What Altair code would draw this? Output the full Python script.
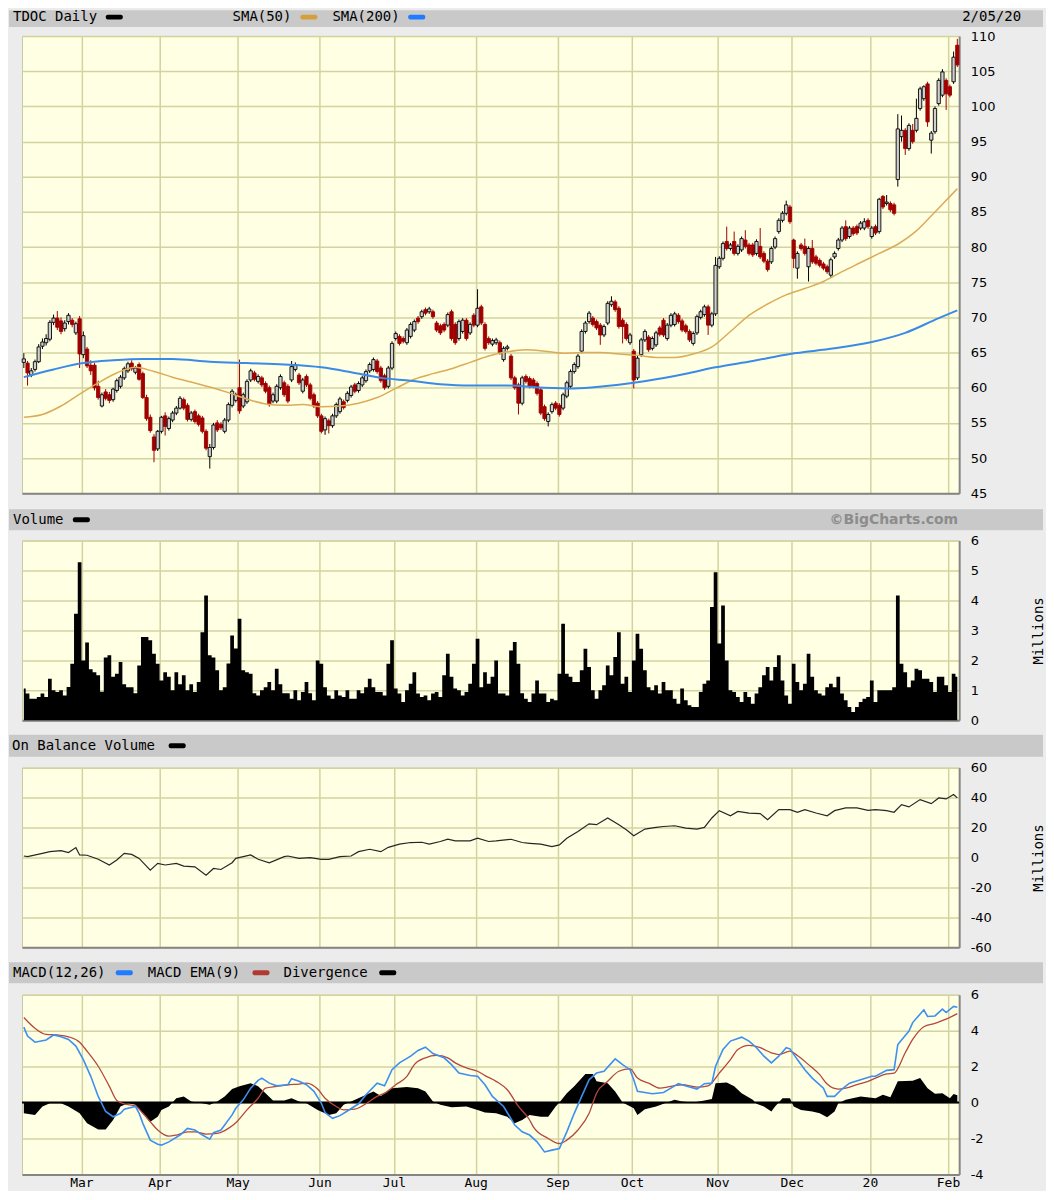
import altair as alt
import pandas as pd

# ---------------- data (trading-day index 0 = 2019-02-06 ... 251 = 2020-02-05) ----------------
opens = [63.6, 63.5, 61.8, 62.6, 63.7, 65.9, 66.4, 66.9, 69.3, 69.9,
         69.5, 68.4, 69.4, 69.6, 67.8, 69.8, 64.7, 65.5, 63.2, 63.2,
         60.2, 57.4, 59.4, 59.0, 58.3, 59.6, 60.2, 61.4, 62.4, 63.5,
         62.2, 63.3, 62.0, 58.6, 55.8, 53.0, 51.3, 53.8, 56.0, 54.2,
         55.4, 56.4, 57.1, 58.3, 57.5, 55.5, 56.6, 56.0, 55.7, 53.8,
         50.2, 51.5, 55.0, 54.8, 53.8, 55.4, 57.5, 58.2, 60.0, 57.4,
         58.0, 61.1, 62.1, 60.9, 61.4, 60.6, 60.0, 58.1, 58.1, 60.0,
         60.7, 60.2, 61.1, 62.6, 61.8, 59.5, 61.6, 60.4, 59.0, 57.8,
         56.0, 54.0, 55.3, 54.6, 56.0, 56.6, 58.0, 58.2, 58.9, 60.4,
         59.6, 60.4, 61.0, 62.4, 62.6, 63.8, 62.8, 61.7, 60.2, 62.8,
         67.0, 67.3, 67.0, 66.4, 67.3, 68.2, 69.9, 70.1, 71.1, 70.8,
         70.8, 69.2, 68.8, 69.0, 68.9, 70.8, 69.0, 67.0, 68.0, 69.6,
         67.8, 70.3, 68.9, 71.5, 69.0, 67.0, 66.2, 66.4, 66.4, 64.0,
         65.6, 64.5, 61.4, 60.4, 57.8, 61.6, 61.3, 61.1, 60.6, 59.7,
         57.3, 55.2, 56.6, 57.8, 57.5, 57.1, 58.8, 60.2, 62.3, 63.0,
         65.2, 68.0, 69.4, 69.9, 69.4, 68.9, 67.5, 69.2, 71.8, 72.2,
         71.3, 69.6, 69.0, 66.4, 65.2, 61.4, 64.7, 66.8, 67.2, 65.6,
         66.1, 68.5, 69.6, 67.0, 68.9, 69.0, 70.3, 69.5, 68.8, 68.0,
         66.3, 67.8, 70.0, 70.4, 71.5, 68.9, 70.5, 77.2, 78.4, 80.8,
         79.8, 80.8, 79.1, 79.6, 81.0, 80.3, 80.3, 79.1, 80.1, 79.1,
         78.0, 77.9, 80.0, 82.2, 83.8, 84.8, 85.7, 81.0, 77.0, 80.3,
         80.1, 77.2, 79.8, 78.6, 78.1, 77.6, 77.2, 76.0, 78.6, 79.8,
         81.0, 82.9, 81.5, 82.7, 82.9, 82.7, 82.7, 83.8, 81.5, 82.9,
         82.2, 87.2, 86.2, 86.2, 86.0, 89.6, 95.7, 96.6, 94.0, 96.6,
         96.6, 99.7, 101.1, 103.2, 95.2, 96.4, 100.4, 101.6, 103.7, 102.8,
         103.5, 108.7]
highs = [64.9, 63.8, 62.8, 64.0, 66.2, 67.0, 67.6, 69.6, 70.4, 70.9,
         70.0, 69.6, 70.6, 69.9, 69.4, 70.2, 68.0, 65.8, 63.9, 63.5,
         61.0, 59.3, 59.8, 59.4, 60.0, 61.3, 61.8, 63.0, 63.7, 63.9,
         63.1, 63.6, 62.3, 59.0, 56.2, 53.4, 54.0, 56.0, 56.5, 55.9,
         56.7, 57.4, 58.8, 58.6, 57.8, 56.7, 56.9, 56.3, 56.0, 54.1,
         52.0, 55.0, 55.4, 55.1, 55.7, 57.9, 59.8, 59.3, 64.0, 59.3,
         61.2, 62.7, 62.4, 61.9, 61.7, 60.9, 60.3, 59.3, 60.5, 61.9,
         61.0, 60.5, 63.8, 63.6, 62.1, 61.4, 61.9, 60.7, 59.3, 58.1,
         56.3, 55.9, 55.6, 56.3, 57.9, 58.7, 58.3, 59.5, 60.4, 60.7,
         60.9, 61.7, 62.6, 63.6, 64.3, 64.1, 63.1, 62.0, 63.1, 66.6,
         68.0, 67.6, 67.3, 68.5, 69.3, 69.7, 70.2, 71.1, 71.4, 71.5,
         71.1, 69.5, 69.1, 69.3, 70.7, 71.1, 69.3, 69.7, 69.9, 69.9,
         69.3, 70.6, 74.0, 71.8, 69.3, 67.3, 67.0, 67.1, 66.7, 65.9,
         66.1, 64.8, 61.7, 60.7, 61.7, 61.9, 61.6, 61.4, 60.9, 60.0,
         57.6, 56.5, 57.9, 58.1, 57.8, 59.3, 61.0, 62.6, 63.6, 64.8,
         68.3, 69.5, 70.9, 70.2, 69.7, 69.2, 69.0, 72.3, 73.0, 72.5,
         71.6, 69.9, 69.3, 67.8, 65.5, 64.5, 67.1, 68.3, 67.5, 67.3,
         68.1, 68.8, 69.9, 69.2, 70.6, 70.8, 70.6, 69.8, 69.1, 68.3,
         68.0, 70.4, 71.1, 71.8, 71.8, 70.8, 78.6, 78.7, 80.8, 82.9,
         80.6, 82.2, 80.4, 81.5, 82.4, 80.6, 80.6, 81.1, 82.7, 79.4,
         78.3, 80.1, 81.5, 84.1, 85.1, 86.6, 86.0, 81.2, 79.4, 80.6,
         81.2, 80.1, 81.0, 78.9, 78.4, 77.9, 77.5, 78.5, 79.4, 81.3,
         83.0, 83.8, 83.0, 83.0, 83.2, 83.7, 84.1, 84.1, 83.0, 83.2,
         87.0, 87.4, 87.4, 86.5, 86.3, 98.9, 98.7, 96.9, 97.6, 97.5,
         101.1, 102.8, 103.0, 103.5, 96.5, 100.0, 104.0, 105.3, 104.0, 103.1,
         107.8, 109.6]
lows = [62.8, 60.3, 61.5, 62.3, 63.5, 65.5, 66.0, 66.6, 68.9, 68.2,
        67.6, 68.0, 69.0, 68.6, 67.5, 62.8, 64.2, 62.8, 61.8, 59.6,
        58.3, 57.2, 58.2, 57.8, 58.0, 59.3, 59.9, 61.1, 62.1, 62.4,
        61.9, 61.0, 58.4, 55.3, 53.6, 49.4, 51.0, 53.5, 53.2, 53.9,
        55.1, 56.1, 56.9, 56.8, 55.2, 55.2, 54.9, 54.5, 53.5, 51.1,
        48.5, 51.2, 53.7, 54.0, 53.5, 55.1, 57.2, 57.9, 56.3, 57.1,
        57.7, 60.8, 60.9, 60.6, 60.1, 59.2, 57.3, 57.8, 57.8, 59.7,
        58.7, 57.8, 60.8, 62.3, 60.4, 59.2, 60.1, 58.2, 57.1, 55.7,
        53.5, 53.3, 53.5, 54.3, 55.7, 56.3, 56.9, 57.9, 58.6, 59.2,
        59.3, 60.1, 60.7, 62.1, 62.3, 62.0, 60.7, 59.7, 59.9, 62.5,
        66.7, 66.0, 66.3, 66.1, 67.0, 67.9, 69.1, 69.8, 70.3, 70.5,
        69.8, 67.9, 67.5, 67.9, 68.6, 66.7, 66.1, 66.7, 67.7, 66.7,
        67.5, 68.6, 68.6, 68.9, 65.3, 66.1, 65.9, 66.1, 64.7, 63.7,
        65.3, 61.1, 59.7, 56.2, 57.5, 60.6, 59.9, 59.9, 58.9, 56.1,
        55.3, 54.5, 56.3, 56.8, 55.9, 56.8, 58.5, 59.9, 62.0, 62.7,
        64.9, 67.7, 69.1, 68.7, 68.2, 66.1, 67.2, 68.9, 71.5, 70.8,
        68.4, 66.3, 66.7, 66.1, 59.9, 61.1, 64.4, 66.5, 65.1, 65.3,
        65.8, 67.3, 67.2, 66.7, 68.6, 68.7, 69.1, 67.9, 67.7, 66.5,
        66.0, 67.5, 69.7, 70.1, 67.5, 68.6, 70.2, 76.9, 78.1, 79.5,
        79.5, 78.8, 78.8, 79.3, 79.8, 78.8, 78.6, 78.8, 78.3, 77.7,
        76.5, 77.6, 79.7, 81.9, 83.5, 84.5, 83.3, 77.0, 75.5, 79.5,
        78.8, 75.1, 77.6, 77.4, 77.1, 76.7, 76.2, 75.6, 78.3, 79.5,
        80.7, 80.9, 81.2, 81.6, 81.7, 82.4, 82.4, 82.6, 81.2, 81.7,
        81.9, 85.4, 85.9, 85.0, 84.5, 88.6, 95.0, 93.1, 93.7, 94.7,
        96.3, 99.4, 100.8, 97.1, 93.3, 96.1, 100.1, 101.3, 99.5, 101.3,
        103.2, 105.6]
closes = [64.1, 62.1, 62.4, 63.7, 65.8, 66.5, 67.0, 69.3, 69.9, 68.6,
          68.0, 69.2, 70.3, 69.0, 69.1, 64.8, 67.4, 63.1, 62.4, 60.0,
          58.6, 59.0, 58.5, 58.2, 59.8, 61.0, 61.5, 62.7, 63.4, 62.7,
          62.8, 61.2, 58.6, 55.6, 53.9, 51.1, 53.8, 55.8, 54.5, 55.6,
          56.4, 57.1, 58.5, 57.1, 55.5, 56.4, 55.2, 54.8, 53.8, 51.4,
          51.5, 54.7, 54.0, 54.3, 55.4, 57.6, 59.5, 59.0, 56.7, 59.0,
          60.9, 62.4, 61.2, 61.6, 60.4, 59.5, 57.6, 59.0, 60.2, 61.6,
          59.0, 58.1, 63.0, 63.3, 60.7, 61.1, 60.4, 58.5, 57.4, 56.0,
          53.8, 55.6, 54.6, 56.0, 57.6, 58.4, 57.2, 59.2, 60.1, 59.5,
          60.6, 61.4, 62.3, 63.3, 64.0, 62.3, 61.0, 60.0, 62.8, 66.3,
          67.7, 66.3, 66.6, 68.2, 69.0, 69.4, 69.4, 70.8, 70.6, 71.2,
          70.1, 68.2, 67.8, 68.2, 70.4, 67.0, 66.4, 69.4, 69.6, 67.0,
          69.0, 68.9, 71.3, 69.2, 65.6, 66.4, 66.7, 66.8, 65.0, 65.6,
          65.8, 61.4, 60.0, 57.8, 61.4, 60.9, 60.2, 60.2, 59.2, 56.4,
          55.6, 56.2, 57.6, 57.1, 56.2, 59.0, 60.7, 62.3, 63.3, 64.5,
          68.0, 69.2, 70.6, 69.0, 68.5, 67.5, 68.7, 72.0, 72.3, 71.1,
          68.7, 68.7, 67.0, 67.5, 61.1, 64.2, 66.8, 68.0, 65.4, 67.0,
          67.8, 67.6, 67.5, 68.9, 70.3, 70.5, 69.4, 68.2, 68.0, 66.8,
          67.7, 70.1, 70.8, 71.5, 68.9, 70.5, 77.4, 78.4, 80.5, 79.8,
          80.3, 79.1, 80.1, 81.2, 80.1, 79.1, 78.9, 80.8, 78.6, 78.0,
          76.8, 79.8, 81.2, 83.8, 84.8, 86.0, 83.6, 78.4, 79.1, 79.8,
          79.1, 79.8, 77.9, 77.7, 77.4, 77.0, 76.5, 78.2, 79.1, 81.0,
          82.7, 81.2, 82.7, 81.9, 82.0, 83.4, 83.6, 82.9, 82.7, 82.0,
          86.8, 85.7, 86.4, 85.3, 84.8, 96.8, 96.6, 94.0, 97.3, 95.0,
          98.3, 102.5, 102.8, 97.8, 96.2, 99.7, 103.7, 104.9, 101.8, 101.6,
          107.0, 105.9]
volumes = [1.06, 0.89, 0.72, 0.72, 0.78, 0.89, 0.78, 1.39, 1.0, 0.94,
           1.0, 0.83, 1.11, 1.89, 3.56, 5.28, 2.0, 2.6, 1.7, 1.6,
           1.5, 0.95, 2.1, 2.17, 1.45, 1.55, 1.95, 1.2, 1.1, 1.1,
           0.9, 1.83, 2.78, 2.78, 2.67, 2.22, 1.89, 1.33, 1.6, 1.45,
           1.0, 1.6, 1.2, 1.5, 1.0, 1.2, 0.94, 1.28, 2.94, 4.17,
           2.17, 2.1, 1.67, 1.0, 1.1, 1.9, 2.83, 2.4, 3.39, 1.67,
           1.6, 1.55, 0.9, 0.83, 1.0, 1.1, 1.28, 1.0, 1.72, 1.2,
           0.9, 0.9, 0.72, 1.0, 0.67, 0.94, 1.28, 0.9, 0.67, 2.0,
           1.89, 1.1, 0.83, 0.72, 1.0, 0.83, 0.78, 1.0, 0.72, 0.72,
           1.0, 0.9, 1.1, 1.39, 1.1, 0.94, 0.94, 0.83, 1.89, 2.67,
           1.06, 0.89, 0.61, 1.0, 1.22, 1.6, 0.89, 0.78, 0.83, 0.67,
           0.89, 0.94, 0.78, 1.5, 2.22, 1.45, 1.06, 1.0, 0.83, 0.94,
           1.22, 1.89, 2.72, 1.1, 1.6, 1.22, 1.45, 2.0, 0.89, 0.89,
           0.83, 2.33, 2.61, 1.89, 0.9, 0.72, 0.61, 0.89, 1.33, 0.89,
           0.89, 0.61, 0.72, 0.67, 1.55, 3.22, 1.55, 1.45, 1.28, 1.28,
           1.67, 2.39, 1.78, 1.0, 0.72, 1.0, 1.17, 1.83, 1.5, 2.11,
           2.94, 1.22, 1.45, 0.94, 2.0, 2.89, 2.39, 1.67, 1.1, 1.0,
           1.17, 0.89, 1.28, 1.0, 1.0, 0.72, 0.55, 1.06, 0.67, 0.5,
           0.44, 0.44, 0.94, 1.22, 1.33, 3.78, 4.94, 2.56, 3.83, 2.0,
           1.0, 0.94, 0.78, 0.61, 0.94, 0.78, 0.55, 0.89, 1.1, 1.5,
           1.78, 1.33, 1.78, 2.17, 1.33, 0.83, 0.55, 1.89, 1.28, 1.0,
           1.22, 2.22, 1.45, 1.0, 0.89, 0.83, 1.1, 1.22, 1.1, 1.45,
           0.89, 0.67, 0.44, 0.28, 0.44, 0.61, 0.72, 0.78, 1.33, 0.61,
           1.0, 1.0, 1.0, 1.0, 1.1, 4.17, 1.89, 1.6, 1.1, 1.33,
           1.72, 1.67, 1.39, 1.39, 1.28, 0.94, 1.45, 1.45, 1.17, 0.94,
           1.55, 1.45]

sma50_day = [0, 5, 10, 15, 20, 25, 30, 35, 40, 45, 50, 55, 60, 65, 70, 75, 80, 85, 90, 95,
             100, 105, 110, 115, 120, 125, 130, 135, 140, 145, 150, 155, 160, 165, 170, 175,
             180, 185, 190, 195, 200, 205, 210, 215, 220, 225, 230, 235, 240, 245, 251]
sma50_val = [55.8, 56.2, 57.4, 59.1, 60.7, 62.1, 62.9, 62.3, 61.5, 60.8, 60.1, 59.3, 58.4, 57.7,
             57.5, 57.6, 57.3, 57.4, 57.8, 58.6, 59.9, 61.2, 62.0, 62.7, 63.6, 64.5, 65.1, 65.4,
             65.2, 64.9, 65.0, 65.0, 64.8, 64.6, 64.3, 64.3, 64.8, 65.8, 68.0, 70.3, 71.9, 73.2,
             74.1, 75.1, 76.5, 77.8, 79.1, 80.4, 82.3, 85.0, 88.3]
sma200_day = [0, 8, 16, 24, 32, 40, 50, 60, 70, 80, 88, 96, 104, 112, 120, 130, 140, 148,
              156, 164, 170, 178, 186, 196, 206, 218, 228, 237, 246, 251]
sma200_val = [61.5, 62.6, 63.5, 63.9, 64.1, 64.1, 63.7, 63.5, 63.3, 62.9, 62.2, 61.4, 61.0,
              60.5, 60.3, 60.3, 60.0, 59.9, 60.2, 60.7, 61.2, 62.0, 62.9, 63.8, 64.8, 65.6,
              66.5, 67.8, 69.9, 71.0]

obv_day = [0, 1, 5, 7, 10, 12, 14, 15, 17, 20, 23, 25, 27, 29, 31, 34, 36, 38, 41, 43, 46,
           49, 51, 53, 56, 57, 61, 63, 66, 70, 71, 74, 77, 80, 82, 85, 88, 90, 93, 96, 98,
           101, 104, 107, 109, 112, 114, 116, 120, 122, 125, 127, 131, 134, 136, 139, 142,
           144, 146, 149, 152, 154, 157, 160, 162, 164, 167, 170, 172, 175, 178, 181, 183,
           185, 187, 190, 192, 195, 198, 200, 203, 206, 208, 210, 213, 216, 218, 221, 224,
           227, 229, 232, 234, 236, 238, 241, 244, 246, 248, 250, 251]
obv_val = [1.0, 0.6, 2.8, 3.9, 4.6, 3.3, 6.6, 1.7, 1.5, -1.2, -5.0, -1.7, 2.8, 2.1, -0.6,
           -8.4, -3.9, -5.0, -3.9, -5.7, -6.2, -11.8, -7.3, -8.0, -3.5, -0.6, 1.7, -1.2,
           -3.5, 0.6, 1.0, -0.6, -0.1, -1.2, -1.2, 0.6, 1.0, 3.9, 5.5, 3.9, 6.8, 8.9, 10.0,
           10.2, 8.9, 10.7, 12.2, 11.1, 11.1, 12.9, 10.7, 11.1, 12.2, 10.0, 9.5, 8.9, 7.3,
           8.4, 12.9, 17.4, 22.5, 21.9, 26.4, 21.9, 18.5, 14.5, 19.0, 20.1, 20.7, 21.2, 19.6,
           19.0, 20.1, 26.4, 31.3, 27.9, 30.8, 29.7, 29.3, 25.2, 32.0, 32.0, 30.2, 32.0, 29.7,
           27.9, 31.3, 33.1, 33.1, 31.5, 32.0, 31.3, 30.2, 35.3, 33.8, 38.7, 36.0, 39.8, 39.1,
           42.1, 39.8]

macd_day = [0, 1, 3, 6, 8, 10, 12, 14, 16, 18, 20, 22, 24, 26, 27, 30, 31, 32, 34, 36, 37,
            39, 42, 44, 46, 48, 50, 51, 53, 56, 57, 59, 61, 63, 64, 66, 68, 71, 72, 74, 76,
            78, 80, 81, 83, 85, 87, 90, 92, 95, 97, 99, 101, 104, 106, 108, 110, 113, 115,
            117, 120, 122, 124, 126, 129, 132, 134, 136, 138, 140, 142, 144, 146, 148, 150,
            152, 154, 156, 159, 161, 163, 164, 165, 167, 169, 172, 174, 176, 179, 181, 183,
            185, 186, 188, 190, 193, 195, 197, 199, 201, 203, 205, 206, 208, 210, 212, 215,
            216, 218, 220, 222, 225, 228, 229, 232, 234, 235, 238, 239, 242, 243, 245, 247,
            248, 250, 251]
macd_val = [4.2, 3.7, 3.36, 3.48, 3.76, 3.66, 3.51, 3.14, 2.39, 1.46, 0.34, -0.5, -0.79,
            -0.6, -0.37, -0.22, -0.6, -1.16, -2.09, -2.32, -2.37, -2.19, -1.81, -1.44, -1.53,
            -1.81, -2.04, -1.68, -1.53, -0.69, -0.32, 0.15, 0.8, 1.23, 1.36, 1.08, 0.93, 0.99,
            1.33, 1.18, 0.99, 0.62, -0.04, -0.56, -0.88, -0.73, -0.47, -0.07, 0.43, 1.08, 0.93,
            1.83, 2.21, 2.58, 2.9, 3.08, 2.73, 2.49, 2.11, 1.64, 1.5, 1.46, 0.99, 0.34, -0.22,
            -1.25, -1.63, -1.81, -2.19, -2.75, -2.65, -2.56, -1.63, -0.6, 0.34, 1.27, 1.64,
            1.74, 2.43, 2.11, 1.83, 1.27, 0.62, 0.56, 0.49, 0.56, 0.8, 1.05, 0.86, 0.75, 1.05,
            1.08, 2.02, 2.95, 3.42, 3.64, 3.42, 3.05, 2.58, 2.21, 2.58, 3.05, 2.99, 2.39, 1.83,
            1.36, 0.8, 0.34, 0.34, 0.75, 1.08, 1.27, 1.46, 1.46, 1.79, 1.83, 3.23, 3.98, 4.45,
            5.16, 4.79, 4.82, 5.2, 5.01, 5.35, 5.3]
sig_day = [0, 3, 6, 9, 12, 15, 17, 20, 23, 25, 27, 30, 32, 34, 36, 39, 41, 44, 46, 49, 52,
           55, 57, 60, 63, 65, 68, 71, 74, 76, 79, 81, 84, 86, 89, 92, 95, 97, 100, 103, 105,
           108, 111, 114, 116, 119, 122, 124, 127, 130, 133, 136, 137, 141, 144, 146, 149,
           152, 154, 157, 160, 163, 165, 168, 171, 174, 177, 181, 184, 187, 190, 192, 195,
           198, 201, 203, 206, 208, 211, 214, 216, 219, 221, 224, 227, 229, 232, 234, 237,
           239, 242, 245, 248, 251]
sig_val = [4.73, 4.13, 3.79, 3.76, 3.66, 3.36, 2.86, 2.02, 0.9, 0.11, -0.07, -0.19, -0.6,
           -1.07, -1.53, -1.87, -1.81, -1.63, -1.63, -1.76, -1.72, -1.44, -1.12, -0.41, 0.24,
           0.8, 0.9, 0.99, 1.03, 1.08, 0.75, 0.24, -0.22, -0.41, -0.37, -0.07, 0.34, 0.52,
           0.99, 1.46, 2.11, 2.49, 2.62, 2.49, 2.21, 1.93, 1.74, 1.5, 1.18, 0.71, -0.22,
           -0.97, -1.35, -2.0, -2.28, -2.09, -1.53, -0.6, 0.52, 1.18, 1.74, 1.87, 1.36, 1.08,
           0.8, 0.9, 0.99, 0.86, 0.93, 1.64, 2.39, 2.95, 3.18, 3.05, 2.77, 2.67, 2.86, 2.62,
           2.11, 1.55, 1.03, 0.75, 0.8, 0.99, 1.18, 1.36, 1.59, 1.64, 2.77, 3.51, 4.22, 4.41,
           4.64, 4.95]
div_day = [0, 3, 5, 7, 10, 12, 15, 17, 20, 22, 24, 26, 28, 30, 32, 34, 36, 37, 39, 41, 43,
           45, 48, 50, 52, 54, 56, 58, 61, 63, 65, 67, 70, 72, 74, 76, 79, 82, 84, 86, 88,
           91, 94, 96, 99, 103, 106, 108, 110, 112, 115, 119, 122, 124, 127, 130, 132, 134,
           136, 139, 141, 143, 144, 146, 148, 151, 153, 154, 157, 159, 161, 164, 165, 167,
           170, 172, 175, 177, 180, 183, 185, 186, 189, 191, 193, 196, 197, 199, 201, 202,
           204, 206, 207, 209, 212, 214, 216, 218, 219, 221, 225, 229, 231, 233, 235, 239,
           241, 243, 245, 247, 249, 250, 251]
div_val = [-0.6, -0.69, -0.22, -0.04, -0.04, -0.22, -0.6, -1.16, -1.5, -1.5, -0.97, -0.22,
           -0.04, -0.13, -0.6, -1.07, -0.79, -0.41, -0.22, 0.24, 0.34, 0.06, -0.04, -0.13,
           0.06, 0.34, 0.75, 0.9, 1.08, 0.9, 0.52, 0.11, 0.11, 0.24, 0.06, -0.04, -0.41,
           -0.69, -0.6, -0.13, 0.06, 0.34, 0.62, 0.37, 0.8, 0.86, 0.8, 0.62, 0.06, -0.13,
           -0.26, -0.22, -0.41, -0.56, -0.6, -0.79, -1.16, -0.97, -0.69, -0.79, -0.79, -0.22,
           0.0, 0.52, 0.9, 1.59, 1.59, 1.18, 1.08, 0.62, 0.0, -0.32, -0.69, -0.37, -0.22,
           -0.07, 0.15, 0.06, 0.0, 0.11, 0.19, 1.08, 1.12, 0.9, 0.52, 0.15, -0.07, -0.22,
           -0.5, -0.22, 0.24, 0.24, -0.22, -0.41, -0.5, -0.6, -0.82, -0.5, -0.04, 0.15, 0.34,
           0.24, 0.43, 0.3, 1.18, 1.21, 1.36, 0.8, 0.49, 0.52, 0.24, 0.47, 0.4]

month_days = [16, 37, 58, 80, 100, 122, 144, 164, 187, 207, 228, 249]
month_labels = ["Mar", "Apr", "May", "Jun", "Jul", "Aug", "Sep", "Oct", "Nov", "Dec", "20", "Feb"]

# ---------------- styling ----------------
MONO = "DejaVu Sans Mono"
SANS = "DejaVu Sans"
GRID = "#d3d3a0"
EDGE = "#858585"
W = 939
XS = alt.Scale(domain=[0, 252], nice=False, zero=False)
LABEL_EXPR = ("[" + ",".join("'%s'" % m for m in month_labels) + "][indexof(["
              + ",".join(str(d) for d in month_days) + "], datum.value)]")


def xenc(field, show=False):
    return alt.X(field, type="quantitative", scale=XS, title=None,
                 axis=alt.Axis(values=month_days, grid=True, gridColor=GRID, gridWidth=1.5,
                               ticks=False, labels=show, labelExpr=LABEL_EXPR,
                               labelFont=MONO, labelFontSize=13, labelColor="#000000",
                               labelPadding=2, labelFlush=False, domain=True,
                               domainColor=EDGE, domainWidth=2))


def yenc(field, domain, values, title=None, h=180):
    kw = dict(orient="right", values=values, grid=True, gridColor=GRID, gridWidth=1.5,
              ticks=False, labelPadding=11, labelFont=SANS, labelFontSize=13,
              labelColor="#000000", labelExpr="'' + datum.value", labelFlush=False,
              domain=True, domainColor=EDGE, domainWidth=2)
    if title:
        kw.update(title=title, titleAngle=270, titleX=79, titleY=h / 2, titleFont=MONO,
                  titleFontSize=14, titleFontWeight="normal", titleColor="#000000",
                  titleAlign="center", titleBaseline="middle")
    else:
        kw.update(title="")
    return alt.Y(field, type="quantitative",
                 scale=alt.Scale(domain=domain, nice=False, zero=False),
                 axis=alt.Axis(**kw))


one = pd.DataFrame({"k": [0]})


def hbar(y1, y2):
    return alt.Chart(one).mark_rect(color="#c9c9c9").encode(
        x=alt.value(-13), x2=alt.value(1023), y=alt.value(y1), y2=alt.value(y2))


def htext(txt, x, y, align="left", font=MONO, size=14, weight="normal", color="#000000"):
    return alt.Chart(one).mark_text(align=align, baseline="middle", font=font, fontSize=size,
                                    fontWeight=weight, color=color).encode(
        x=alt.value(x), y=alt.value(y), text=alt.value(txt))


def swatch(x, y, color):
    return alt.Chart(one).mark_rect(color=color, cornerRadius=2).encode(
        x=alt.value(x), x2=alt.value(x + 17), y=alt.value(y - 2.5), y2=alt.value(y + 2.5))


# ---------------- price panel ----------------
PH = 458
pdf = pd.DataFrame({"d": list(range(len(closes))), "o": opens, "h": highs, "l": lows, "c": closes})
pbase = alt.Chart(pdf).transform_calculate(
    xm="datum.d + 0.5", xa="datum.d + 0.06", xb="datum.d + 0.94",
    dirn="datum.c >= datum.o ? 'up' : 'down'")
PDOM = [45, 110]
PVALS = list(range(45, 111, 5))
dir_scale_line = alt.Scale(domain=["up", "down"], range=["#000000", "#a00000"])
dir_scale_fill = alt.Scale(domain=["up", "down"], range=["#cfcfcf", "#a00000"])

wicks = pbase.mark_rule(strokeWidth=1).encode(
    x=xenc("xm:Q"), y=yenc("l:Q", PDOM, PVALS), y2="h:Q",
    color=alt.Color("dirn:N", scale=dir_scale_line, legend=None))
bodies = pbase.mark_rect(strokeWidth=0.9).encode(
    x=xenc("xa:Q"), x2="xb:Q", y=yenc("o:Q", PDOM, PVALS), y2="c:Q",
    fill=alt.Fill("dirn:N", scale=dir_scale_fill, legend=None),
    stroke=alt.Stroke("dirn:N", scale=dir_scale_line, legend=None))
s50 = alt.Chart(pd.DataFrame({"d": sma50_day, "v": sma50_val})).transform_calculate(
    xm="datum.d + 0.5").mark_line(color="#dcab58", strokeWidth=1.5,
                                  interpolate="monotone").encode(
    x=xenc("xm:Q"), y=yenc("v:Q", PDOM, PVALS))
s200 = alt.Chart(pd.DataFrame({"d": sma200_day, "v": sma200_val})).transform_calculate(
    xm="datum.d + 0.5").mark_line(color="#3a8ae8", strokeWidth=2,
                                  interpolate="monotone").encode(
    x=xenc("xm:Q"), y=yenc("v:Q", PDOM, PVALS))

price = alt.layer(
    hbar(-26, -9),
    htext("TDOC Daily", -9, -19), swatch(84, -19, "#000000"),
    htext("SMA(50)", 211, -19), swatch(279, -19, "#d4a03c"),
    htext("SMA(200)", 311, -19), swatch(387, -19, "#1f7bff"),
    htext("2/05/20", 1001, -19, align="right"),
    wicks, bodies, s50, s200,
).properties(width=W, height=PH)

# ---------------- volume panel ----------------
vdf = pd.DataFrame({"d": list(range(len(volumes))), "v": volumes, "z": [0.0] * len(volumes)})
VDOM = [0, 6]
VVALS = [0, 1, 2, 3, 4, 5, 6]
varea = alt.Chart(vdf).transform_calculate(xm="datum.d + 0.5").mark_area(
    color="#000000", interpolate="step").encode(
    x=xenc("xm:Q"), y=yenc("v:Q", VDOM, VVALS, title="Millions"), y2="z:Q")
vol = alt.layer(
    hbar(-31.5, -10.5),
    htext("Volume", -9, -21), swatch(51, -21, "#000000"),
    htext("\u00a9BigCharts.com", 938, -21, align="right", font=SANS, size=14,
          weight="bold", color="#8c8c8c"),
    varea,
).properties(width=W, height=180)

# ---------------- OBV panel ----------------
ODOM = [-60, 60]
OVALS = [-60, -40, -20, 0, 20, 40, 60]
oline = alt.Chart(pd.DataFrame({"d": obv_day, "v": obv_val})).transform_calculate(
    xm="datum.d + 0.5").mark_line(color="#262626", strokeWidth=1.2).encode(
    x=xenc("xm:Q"), y=yenc("v:Q", ODOM, OVALS, title="Millions"))
obv = alt.layer(
    hbar(-33, -11),
    htext("On Balance Volume", -10, -22), swatch(147, -22, "#000000"),
    oline,
).properties(width=W, height=180)

# ---------------- MACD panel ----------------
MDOM = [-4, 6]
MVALS = [-4, -2, 0, 2, 4, 6]
ddf = pd.DataFrame({"d": div_day, "v": div_val, "z": [0.0] * len(div_day)})
darea = alt.Chart(ddf).transform_calculate(xm="datum.d + 0.5").mark_area(
    color="#000000", interpolate="linear").encode(
    x=xenc("xm:Q", True), y=yenc("v:Q", MDOM, MVALS), y2="z:Q")
zline = alt.Chart(pd.DataFrame({"z": [0.0]})).mark_rule(color="#000000", strokeWidth=2).encode(
    y=yenc("z:Q", MDOM, MVALS))
sline = alt.Chart(pd.DataFrame({"d": sig_day, "v": sig_val})).transform_calculate(
    xm="datum.d + 0.5").mark_line(color="#b4473e", strokeWidth=1.3,
                                  interpolate="monotone").encode(
    x=xenc("xm:Q", True), y=yenc("v:Q", MDOM, MVALS))
mline = alt.Chart(pd.DataFrame({"d": macd_day, "v": macd_val})).transform_calculate(
    xm="datum.d + 0.5").mark_line(color="#3d8ff0", strokeWidth=1.6).encode(
    x=xenc("xm:Q", True), y=yenc("v:Q", MDOM, MVALS))
macd = alt.layer(
    hbar(-32.5, -11.5),
    htext("MACD(12,26)", -9, -22), swatch(94, -22, "#1f7bff"),
    htext("MACD EMA(9)", 126, -22), swatch(231, -22, "#b03a32"),
    htext("Divergence", 262, -22), swatch(358, -22, "#000000"),
    darea, zline, sline, mline,
).properties(width=W, height=180)

chart = alt.vconcat(price, vol, obv, macd, spacing=47.5, bounds="flush").properties(
    padding=0, background="#ececec"
).configure_view(fill="#ffffe3", stroke="#c9c9a8", strokeWidth=1)

chart.save("out.html", embed_options={"renderer": "svg", "actions": False})
